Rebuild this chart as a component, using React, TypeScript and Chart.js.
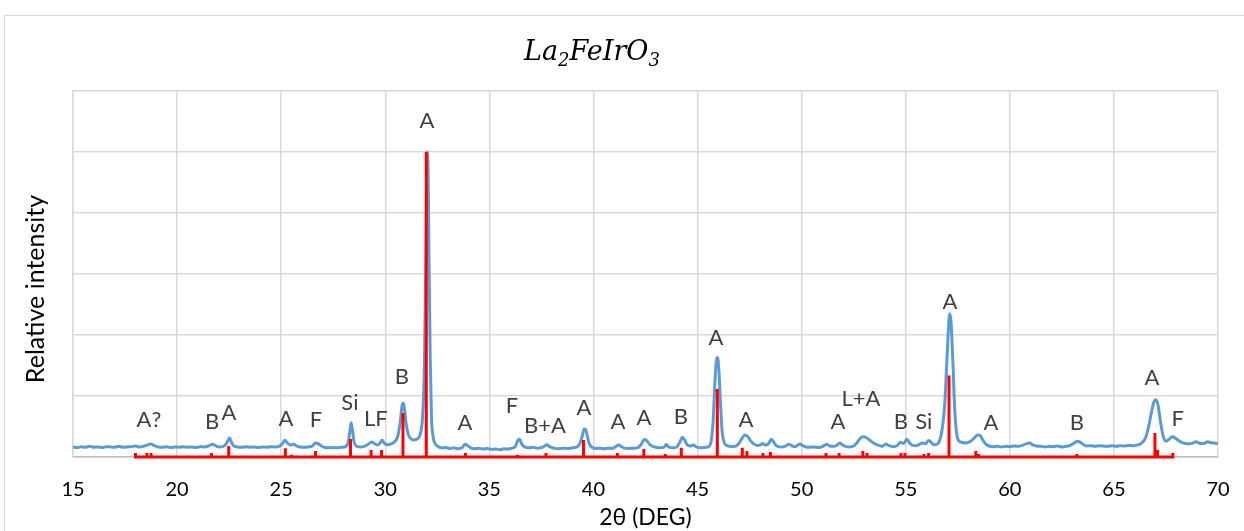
import React, { useEffect, useRef } from 'react';
import { Chart, registerables } from 'chart.js';

Chart.register(...registerables);

// Measured pattern (2θ in degrees, relative intensity with main peak = 100)
const measuredX = [
  15.0, 15.2, 15.4, 15.6, 15.8, 16.0, 16.2, 16.4, 16.6, 16.8, 17.0, 17.2, 17.4, 17.6, 17.8, 18.0, 18.2, 18.4, 18.6, 18.75,
  18.9, 19.1, 19.3, 19.5, 19.7, 19.9, 20.1, 20.3, 20.5, 20.7, 20.9, 21.1, 21.3, 21.5, 21.7, 21.85, 22.0, 22.2, 22.35, 22.45,
  22.52, 22.6, 22.7, 22.9, 23.1, 23.3, 23.5, 23.7, 23.9, 24.1, 24.3, 24.5, 24.7, 24.9, 25.05, 25.18, 25.3, 25.45, 25.6, 25.75,
  25.9, 26.1, 26.3, 26.5, 26.65, 26.8, 26.95, 27.1, 27.3, 27.5, 27.7, 27.9, 28.1, 28.22, 28.3, 28.36, 28.42, 28.5, 28.6, 28.8,
  29.0, 29.2, 29.35, 29.5, 29.65, 29.75, 29.85, 29.95, 30.1, 30.3, 30.45, 30.6, 30.72, 30.8, 30.86, 30.92, 31.0, 31.1, 31.2, 31.35,
  31.5, 31.6, 31.7, 31.8, 31.88, 31.94, 31.98, 32.02, 32.06, 32.1, 32.16, 32.22, 32.3, 32.4, 32.55, 32.7, 32.9, 33.1, 33.3, 33.5,
  33.7, 33.85, 33.95, 34.1, 34.3, 34.5, 34.7, 34.9, 35.1, 35.3, 35.5, 35.7, 35.9, 36.1, 36.25, 36.38, 36.45, 36.55, 36.7, 36.9,
  37.1, 37.3, 37.5, 37.65, 37.77, 37.9, 38.1, 38.3, 38.5, 38.7, 38.9, 39.1, 39.3, 39.45, 39.55, 39.62, 39.7, 39.8, 39.95, 40.1,
  40.3, 40.5, 40.7, 40.9, 41.05, 41.2, 41.35, 41.5, 41.7, 41.9, 42.1, 42.3, 42.45, 42.55, 42.7, 42.85, 43.0, 43.2, 43.4, 43.5,
  43.6, 43.8, 44.0, 44.15, 44.27, 44.38, 44.5, 44.65, 44.8, 44.95, 45.1, 45.3, 45.5, 45.65, 45.75, 45.83, 45.9, 45.96, 46.02, 46.1,
  46.18, 46.28, 46.4, 46.55, 46.7, 46.85, 47.0, 47.15, 47.27, 47.4, 47.55, 47.7, 47.85, 48.0, 48.12, 48.25, 48.4, 48.55, 48.65, 48.8,
  49.0, 49.2, 49.4, 49.55, 49.7, 49.9, 50.05, 50.2, 50.4, 50.6, 50.8, 51.0, 51.2, 51.35, 51.55, 51.7, 51.84, 51.95, 52.1, 52.3,
  52.5, 52.65, 52.8, 52.95, 53.1, 53.25, 53.4, 53.55, 53.7, 53.85, 54.05, 54.2, 54.4, 54.6, 54.75, 54.9, 55.05, 55.2, 55.35, 55.5,
  55.65, 55.8, 55.95, 56.1, 56.2, 56.35, 56.5, 56.6, 56.75, 56.88, 56.98, 57.06, 57.12, 57.18, 57.26, 57.35, 57.45, 57.55, 57.7, 57.85,
  58.0, 58.15, 58.3, 58.45, 58.58, 58.7, 58.85, 59.0, 59.2, 59.4, 59.6, 59.8, 60.0, 60.2, 60.4, 60.6, 60.8, 60.95, 61.1, 61.3,
  61.5, 61.7, 61.9, 62.1, 62.3, 62.5, 62.7, 62.9, 63.1, 63.25, 63.4, 63.55, 63.7, 63.9, 64.1, 64.3, 64.5, 64.7, 64.9, 65.1,
  65.3, 65.5, 65.7, 65.9, 66.1, 66.3, 66.5, 66.65, 66.8, 66.92, 67.02, 67.12, 67.25, 67.38, 67.5, 67.65, 67.8, 67.95, 68.1, 68.25,
  68.4, 68.6, 68.8, 68.95, 69.1, 69.3, 69.5, 69.65, 69.8, 70.0,
];
const measuredY = [
  3.3, 3.1, 3.4, 3.2, 3.5, 3.2, 3.3, 3.1, 3.4, 3.3, 3.2, 3.5, 3.2, 3.3, 3.4, 3.6, 3.3, 3.5, 4.0, 4.3,
  3.7, 3.3, 3.2, 3.4, 3.1, 3.3, 3.2, 3.4, 3.2, 3.3, 3.1, 3.4, 3.3, 3.6, 4.2, 3.7, 3.3, 3.4, 4.2, 5.5,
  6.2, 5.0, 3.8, 3.3, 3.2, 3.4, 3.2, 3.3, 3.1, 3.3, 3.2, 3.4, 3.3, 3.5, 4.3, 5.5, 4.6, 3.9, 4.2, 3.6,
  3.3, 3.2, 3.3, 3.6, 4.6, 4.3, 3.5, 3.1, 3.0, 3.1, 3.0, 3.2, 3.4, 4.8, 8.5, 11.2, 9.0, 5.0, 3.6, 3.3,
  3.5, 4.3, 4.9, 4.3, 3.9, 4.6, 5.5, 4.5, 4.0, 4.4, 5.0, 6.8, 11.5, 16.5, 17.7, 16.0, 11.0, 7.5, 6.2, 5.6,
  5.8, 6.3, 8.0, 14, 30, 60, 88, 100, 92, 65, 32, 13, 6.5, 4.3, 3.4, 3.0, 3.1, 2.8, 3.0, 2.7,
  3.1, 4.2, 3.8, 3.0, 2.7, 2.9, 2.6, 2.8, 2.5, 2.6, 2.4, 2.7, 2.6, 2.9, 3.5, 5.6, 5.8, 4.3, 3.3, 3.0,
  3.2, 2.9, 3.1, 3.6, 4.0, 3.4, 2.9, 2.7, 2.9, 2.8, 2.9, 3.1, 3.8, 6.5, 9.2, 9.0, 7.0, 4.3, 3.1, 2.8,
  2.9, 2.7, 2.9, 2.8, 3.3, 3.9, 3.4, 2.9, 2.8, 2.9, 3.0, 4.2, 5.8, 5.4, 4.1, 3.5, 3.2, 3.0, 3.3, 4.1,
  3.4, 3.0, 3.3, 4.8, 6.5, 5.6, 4.0, 3.6, 3.9, 3.3, 3.0, 3.1, 3.3, 5.0, 12, 24, 31.5, 32.6, 29, 18,
  8.5, 4.8, 3.8, 3.5, 3.4, 3.6, 4.6, 6.3, 7.2, 6.8, 5.3, 4.3, 3.8, 3.9, 4.4, 3.9, 4.3, 5.8, 5.0, 3.6,
  3.3, 3.5, 4.2, 3.6, 3.4, 4.3, 3.7, 3.3, 3.2, 3.3, 3.1, 3.4, 4.2, 3.6, 3.5, 3.9, 4.6, 4.0, 3.5, 3.3,
  3.6, 4.6, 6.0, 6.6, 6.4, 5.6, 4.8, 4.2, 3.8, 3.5, 4.3, 3.7, 3.4, 3.8, 4.8, 4.4, 5.8, 4.5, 3.8, 3.7,
  4.1, 4.6, 4.4, 5.4, 5.0, 4.0, 4.2, 4.9, 9.0, 18, 32, 43, 47, 44, 32, 16, 7.5, 5.3, 4.8, 4.6,
  4.8, 5.3, 6.3, 7.2, 7.0, 5.6, 4.2, 3.6, 3.4, 3.5, 3.3, 3.5, 3.4, 3.6, 3.5, 3.8, 4.4, 4.6, 4.0, 3.6,
  3.5, 3.3, 3.5, 3.4, 3.6, 3.3, 3.5, 3.8, 4.6, 5.2, 4.8, 4.0, 3.6, 3.7, 3.5, 3.7, 3.6, 3.5, 3.7, 3.5,
  3.7, 3.6, 3.8, 3.7, 3.9, 4.4, 6.0, 9.5, 14.5, 18, 18.8, 17, 11, 6.5, 5.2, 5.8, 6.6, 6.2, 5.4, 4.8,
  4.5, 4.3, 4.6, 5.0, 4.5, 4.4, 5.0, 4.7, 4.6, 4.4,
];

// Reference stick pattern
const refPeakX = [
  18.0, 18.55, 18.75, 21.65, 22.48, 25.2, 25.5, 26.65, 28.33, 29.32, 29.82, 30.85, 31.97, 33.85, 36.35, 37.72, 39.52,
  41.15, 42.42, 43.45, 44.22, 45.95, 47.15, 47.37, 48.14, 48.5, 51.17, 51.8, 52.94, 53.14, 54.77, 54.96, 55.87, 56.1,
  57.08, 58.37, 58.5, 63.22, 66.97, 67.1, 67.83,
];
const refPeakY = [
  1.3, 1.3, 1.3, 1.3, 3.6, 2.9, 0.7, 2.0, 5.9, 2.3, 2.3, 14.4, 100, 1.3, 0.7, 1.3, 5.6,
  1.3, 2.6, 1.0, 3.0, 22.3, 3.0, 2.0, 1.3, 1.6, 1.3, 1.3, 2.0, 1.3, 1.3, 1.3, 1.0, 1.3,
  26.7, 2.0, 1.0, 1.0, 7.9, 2.3, 1.3,
];

// Phase labels placed above peaks (text, 2θ, intensity)
const labelText = ['A?', 'B', 'A', 'A', 'F', 'Si', 'LF', 'B', 'A', 'A', 'F', 'B+A', 'A', 'A', 'A', 'B', 'A', 'A', 'A', 'L+A', 'B', 'Si', 'A', 'A', 'B', 'A', 'F'];
const labelX = [18.65, 21.68, 22.49, 25.23, 26.67, 28.3, 29.55, 30.8, 32.0, 33.83, 36.09, 37.67, 39.54, 41.18, 42.43, 44.2, 45.88, 47.32, 51.74, 52.85, 54.77, 55.87, 57.12, 59.09, 63.22, 66.83, 68.07];
const labelY = [12.1, 11.5, 14.4, 12.5, 12.1, 17.7, 12.5, 26.2, 110.2, 11.2, 16.7, 10.2, 16.1, 11.5, 12.8, 13.1, 39.0, 12.1, 11.5, 19.0, 11.5, 11.5, 50.8, 11.2, 11.2, 25.9, 12.5];

const xMin = 15;
const xMax = 70;
const xStep = 5;
const yMin = 0;
const yMax = 120;
const yStep = 20;

const titleParts: [string, boolean][] = [['La', false], ['2', true], ['FeIrO', false], ['3', true]];
const xTitle = '2θ (DEG)';
const yTitle = 'Relative intensity';

const TEXT = '#404040';
const GRID = '#d9d9d9';

const overlayPlugin = {
  id: 'overlay',
  afterDatasetsDraw(chart: any) {
    const { ctx, scales } = chart;
    const xs = scales.x;
    const ys = scales.y;
    ctx.save();
    ctx.fillStyle = TEXT;
    ctx.font = '22px Lato';
    ctx.textAlign = 'center';
    ctx.textBaseline = 'middle';
    labelText.forEach((t, i) => {
      ctx.fillText(t, xs.getPixelForValue(labelX[i]), ys.getPixelForValue(labelY[i]));
    });
    // y-axis title
    ctx.save();
    ctx.fillStyle = '#000';
    ctx.font = '25px Lato';
    ctx.translate(36, 289);
    ctx.rotate(-Math.PI / 2);
    ctx.fillText(yTitle, 0, 0);
    ctx.restore();
    // title with subscripts
    const mainFont = 'italic 27px "DejaVu Serif"';
    const subFont = 'italic 18px "DejaVu Serif"';
    let total = 0;
    const widths = titleParts.map(([s, sub]) => {
      ctx.font = sub ? subFont : mainFont;
      const w = ctx.measureText(s).width;
      total += w;
      return w;
    });
    let cx = 592 - total / 2;
    ctx.textAlign = 'left';
    ctx.textBaseline = 'alphabetic';
    ctx.fillStyle = '#000';
    titleParts.forEach(([s, sub], i) => {
      ctx.font = sub ? subFont : mainFont;
      ctx.fillText(s, cx, sub ? 66 : 60);
      cx += widths[i];
    });
    ctx.restore();
  },
};

export default function App() {
  const ref = useRef<HTMLCanvasElement>(null);
  useEffect(() => {
    if (!ref.current) return;
    const blue = measuredX.map((x, i) => ({ x, y: measuredY[i] }));
    const red: { x: number; y: number }[] = [];
    refPeakX.forEach((x, i) => {
      red.push({ x, y: 0 }, { x, y: refPeakY[i] }, { x, y: 0 });
    });
    const chart = new Chart(ref.current, {
      type: 'line',
      data: {
        datasets: [
          {
            data: red,
            borderColor: '#ff0000',
            borderWidth: 3,
            pointRadius: 0,
            tension: 0,
            fill: false,
            clip: false,
            order: 0,
          },
          {
            data: blue,
            borderColor: '#5b9bd5',
            borderWidth: 3,
            pointRadius: 0,
            cubicInterpolationMode: 'monotone',
            fill: false,
            clip: false,
            order: 1,
          },
        ],
      },
      options: {
        responsive: false,
        animation: false,
        events: [],
        layout: { padding: { left: 21, right: 26, top: 91, bottom: 0 } },
        plugins: { legend: { display: false }, tooltip: { enabled: false }, title: { display: false } },
        scales: {
          x: {
            type: 'linear',
            min: xMin,
            max: xMax,
            ticks: { stepSize: xStep, color: '#000', font: { family: 'Lato', size: 20 }, padding: 21, maxRotation: 0 },
            grid: { color: GRID, lineWidth: 1.5, drawTicks: false },
            border: { color: '#bfbfbf', width: 1.5 },
            title: { display: true, text: xTitle, color: '#000', font: { family: 'Lato', size: 23 }, padding: { top: 0, bottom: 0 } },
            afterFit: (s: any) => {
              s.height = 74;
              s.paddingLeft = 0;
              s.paddingRight = 0;
            },
          },
          y: {
            min: yMin,
            max: yMax,
            ticks: { stepSize: yStep, display: false },
            grid: { color: GRID, lineWidth: 1.5, drawTicks: false },
            border: { color: GRID, width: 1.5 },
            title: { display: false },
            afterFit: (s: any) => {
              s.width = 52;
            },
          },
        },
      } as any,
      plugins: [overlayPlugin],
    });
    return () => chart.destroy();
  }, []);

  return (
    <div style={{ position: 'fixed', left: 0, top: 0, width: 1244, height: 531, overflow: 'hidden', background: '#fff' }}>
      <div
        style={{
          position: 'absolute',
          left: 4,
          top: 15,
          width: 1400,
          height: 700,
          border: '1.5px solid #d9d9d9',
          boxSizing: 'border-box',
        }}
      />
      <canvas ref={ref} width={1244} height={531} style={{ position: 'absolute', left: 0, top: 0, width: 1244, height: 531 }} />
    </div>
  );
}
